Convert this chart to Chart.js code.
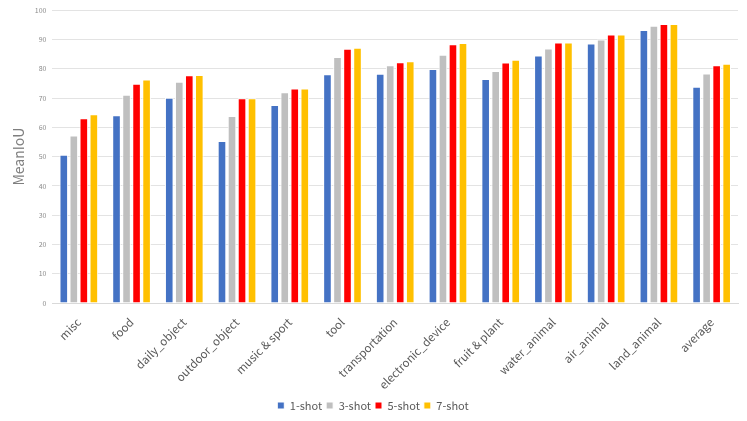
<!DOCTYPE html>
<html>
<head>
<meta charset="utf-8">
<script src="https://cdn.jsdelivr.net/npm/chart.js@4"></script>
<style>
  html, body { margin: 0; padding: 0; background: #fff; }
  #wrap { width: 747px; height: 421px; }
</style>
</head>
<body>
<div id="wrap"><canvas id="chart" width="747" height="421"></canvas></div>
<script>
const categories = ['misc', 'food', 'daily_object', 'outdoor_object', 'music & sport', 'tool',
    'transportation', 'electronic_device', 'fruit & plant', 'water_animal', 'air_animal',
    'land_animal', 'average'];
const shot1 = [50.6, 64.1, 70.1, 55.3, 67.6, 78.1, 78.3, 79.9, 76.5, 84.5, 88.6, 93.2, 73.9];
const shot3 = [57.2, 71.1, 75.6, 63.9, 72.0, 84.0, 81.2, 84.8, 79.2, 86.9, 90.0, 94.7, 78.4];
const shot5 = [63.1, 74.9, 77.8, 69.9, 73.3, 86.8, 82.2, 88.4, 82.1, 89.0, 91.7, 95.3, 81.2];
const shot7 = [64.5, 76.3, 77.9, 69.9, 73.3, 87.2, 82.6, 88.8, 83.1, 89.0, 91.7, 95.3, 81.7];
const seriesNames = ['1-shot', '3-shot', '5-shot', '7-shot'];
const seriesColors = ['#4472C4', '#BFBFBF', '#FF0000', '#FFC000'];

const font = '"Noto Sans CJK SC", "DejaVu Sans", sans-serif';

const ds = [shot1, shot3, shot5, shot7].map((vals, i) => ({
    label: seriesNames[i],
    data: vals,
    backgroundColor: seriesColors[i],
    borderColor: '#ffffff',
    borderWidth: 1,
    categoryPercentage: 0.76,
    barPercentage: 0.86,
}));

new Chart(document.getElementById('chart'), {
    type: 'bar',
    data: { labels: categories, datasets: ds },
    options: {
        responsive: false,
        animation: false,
        layout: { padding: { left: 8, right: 9, top: 0, bottom: 0 } },
        plugins: {
            legend: {
                position: 'bottom',
                labels: {
                    boxWidth: 7, boxHeight: 7, padding: 4,
                    color: '#595959',
                    font: { family: font, size: 11 }
                }
            },
            tooltip: { enabled: false }
        },
        scales: {
            x: {
                grid: { display: false },
                border: { color: '#d9d9d9' },
                ticks: {
                    color: '#595959',
                    font: { family: font, size: 11.5, lineHeight: 1 },
                    minRotation: 45, maxRotation: 45,
                    padding: 5,
                    autoSkip: false
                }
            },
            y: {
                min: 0, max: 100,
                ticks: { stepSize: 10, color: '#8c8c8c', padding: 6, font: { family: font, size: 7 } },
                grid: { color: '#e3e3e3', drawTicks: false },
                border: { display: false },
                title: {
                    display: true, text: 'MeanIoU', color: '#7f7f7f',
                    padding: 2,
                    font: { family: font, size: 14 }
                }
            }
        }
    }
});
</script>
</body>
</html>
